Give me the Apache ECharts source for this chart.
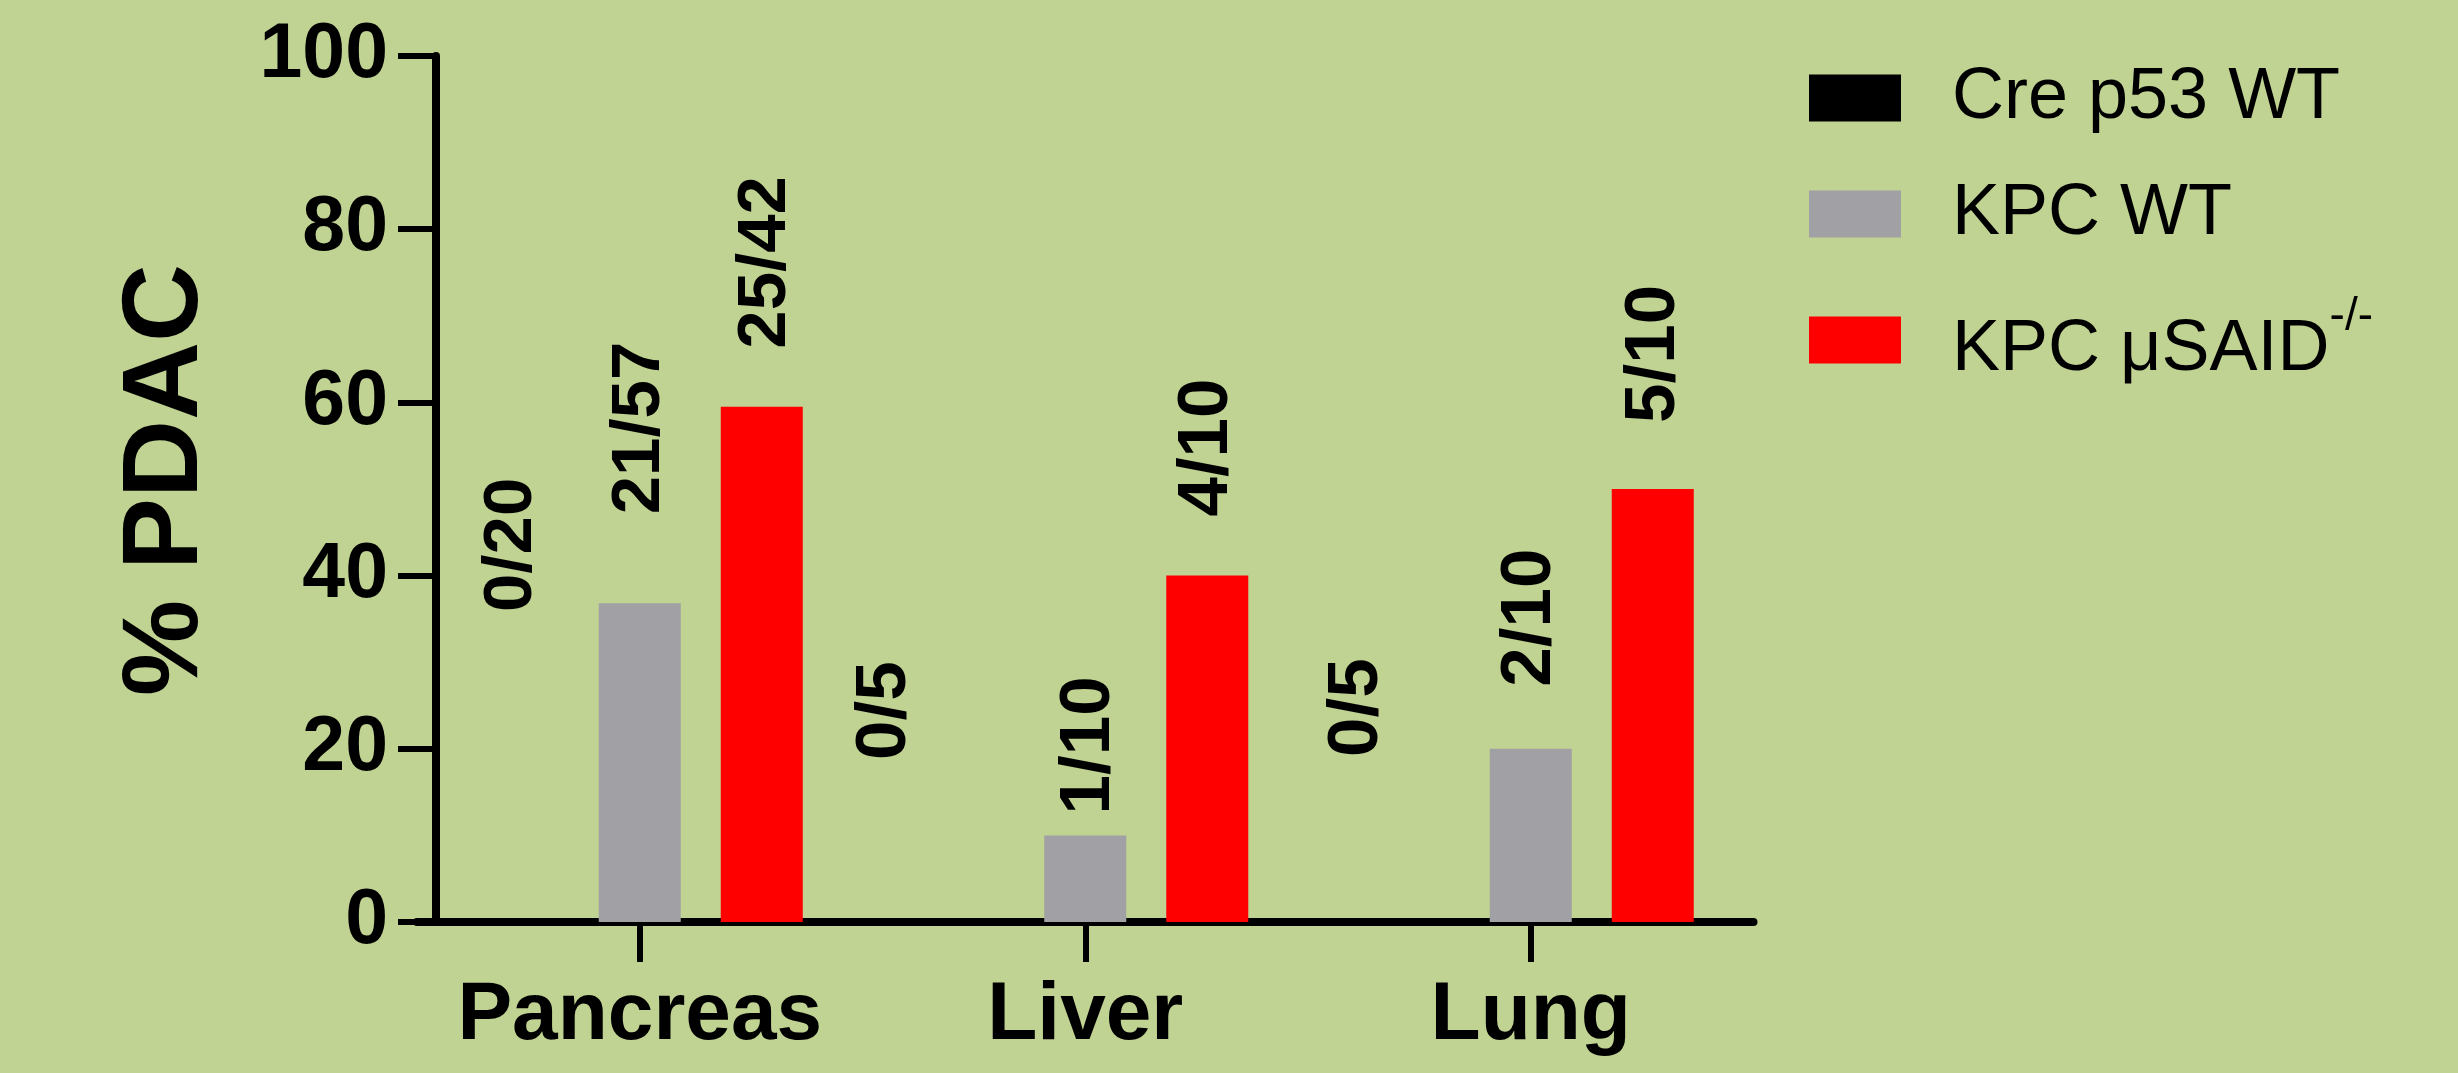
<!DOCTYPE html>
<html><head><meta charset="utf-8">
<script src="https://cdn.jsdelivr.net/npm/echarts@6/dist/echarts.min.js"></script>
<style>html,body{margin:0;padding:0;background:#c0d392;} #c{width:2458px;height:1073px;}</style>
</head><body><div id="c"></div>
<script>
// ---- data ----
const categories = ['Pancreas', 'Liver', 'Lung'];
const seriesNames = ['Cre p53 WT', 'KPC WT', 'KPC μSAID-/-'];
const creP53WT = [0, 0, 0];
const kpcWT = [36.8, 10, 20];
const kpcMuSAID = [59.5, 40, 50];
const creP53WTLabels = ['0/20', '0/5', '0/5'];
const kpcWTLabels = ['21/57', '1/10', '2/10'];
const kpcMuSAIDLabels = ['25/42', '4/10', '5/10'];
const yTicks = [0, 20, 40, 60, 80, 100];

// ---- styles ----
const colors = ['#000000', '#a1a0a5', '#ff0000'];
const labelDistance = [[310, 162, 165], [89, 21, 62], [58, 59, 66]];
const labelShiftX = [[-6, -78, -51], [0, 4, 0], [4, 0, 2]];
const FONT = "'Liberation Sans', Arial, sans-serif";

function mkSeries(i, values, labels) {
  return {
    name: seriesNames[i],
    type: 'bar',
    barWidth: 82,
    barGap: '48.8%',
    itemStyle: { color: colors[i] },
    emphasis: { disabled: true },
    data: values.map((v, j) => ({
      value: v,
      label: {
        show: true,
        formatter: labels[j],
        position: 'top',
        distance: labelDistance[i][j],
        // offset is applied in the rotated frame: local y -> screen x
        offset: [0, labelShiftX[i][j]],
        rotate: 90,
        align: 'left',
        verticalAlign: 'middle',
        fontFamily: FONT,
        fontSize: j === 0 ? 69 : 71,
        fontWeight: 'bold',
        color: '#000'
      }
    }))
  };
}

const chart = echarts.init(document.getElementById('c'), null, { renderer: 'canvas' });
chart.setOption({
  backgroundColor: '#c0d392',
  animation: false,
  grid: { left: 417, width: 1336.5, top: 56, bottom: 151, containLabel: false, outerBoundsMode: 'none' },
  legend: {
    orient: 'vertical',
    left: 1804,
    top: 57,
    itemWidth: 92,
    itemHeight: 47,
    itemGap: 44,
    icon: 'rect',
    selectedMode: false,
    data: seriesNames,
    formatter: function (name) {
      if (name.endsWith('-/-')) return '{n|KPC μSAID}{s|-/-}';
      return name;
    },
    textStyle: {
      fontFamily: FONT,
      fontSize: 72,
      color: '#000',
      padding: [0, 0, 0, 46],
      rich: {
        n: { fontFamily: FONT, fontSize: 72, color: '#000', lineHeight: 92, verticalAlign: 'bottom' },
        s: { fontFamily: FONT, fontSize: 46, color: '#000', lineHeight: 92, verticalAlign: 'top' }
      }
    }
  },
  xAxis: {
    type: 'category',
    data: categories,
    axisLine: { show: true, lineStyle: { color: '#000', width: 8, cap: 'round' } },
    axisTick: { show: true, alignWithLabel: true, interval: 0, length: 40, lineStyle: { color: '#000', width: 6 } },
    axisLabel: { interval: 0, hideOverlap: false, fontFamily: FONT, fontSize: 82, fontWeight: 'bold', color: '#000', margin: 53 },
    splitLine: { show: false }
  },
  yAxis: {
    type: 'value',
    min: yTicks[0],
    max: yTicks[yTicks.length - 1],
    interval: yTicks[1] - yTicks[0],
    offset: -19,
    name: '% PDAC',
    nameLocation: 'middle',
    nameGap: 215,
    nameTextStyle: { fontFamily: FONT, fontSize: 108, fontWeight: 'bold', color: '#000', padding: [0, 0, 0, 18] },
    axisLine: { show: true, lineStyle: { color: '#000', width: 8, cap: 'round' } },
    axisTick: { show: true, length: 38, lineStyle: { color: '#000', width: 6 } },
    axisLabel: { fontFamily: FONT, fontSize: 77, fontWeight: 'bold', color: '#000', margin: 48 },
    splitLine: { show: false }
  },
  series: [
    mkSeries(0, creP53WT, creP53WTLabels),
    mkSeries(1, kpcWT, kpcWTLabels),
    mkSeries(2, kpcMuSAID, kpcMuSAIDLabels)
  ]
});
</script>
</body></html>
